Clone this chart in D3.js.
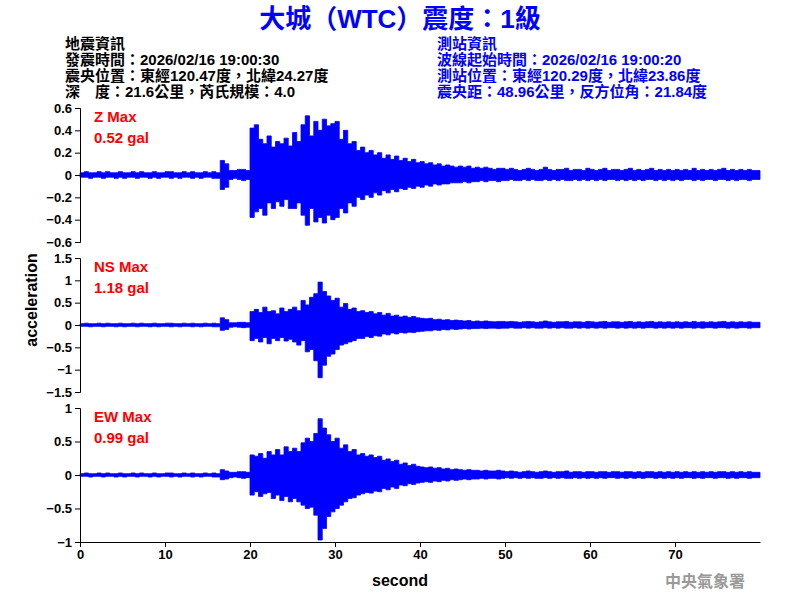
<!DOCTYPE html>
<html>
<head>
<meta charset="utf-8">
<script src="https://cdn.jsdelivr.net/npm/d3@7"></script>
<style>
  body { margin: 0; background: #fff; }
  text { font-family: Arial, "Liberation Sans", "Noto Sans CJK TC", sans-serif; }
</style>
</head>
<body>
<svg id="chart" width="800" height="600"></svg>
<script>
// Envelope of each trace, one max and one min value per 0.5 s bin (0 .. 79.5 s), in gal
const binSize = 0.5;

const zMax = [0.02,0.03,0.02,0.02,0.03,0.02,0.03,0.02,0.02,0.03,0.02,0.02,0.03,0.02,0.03,0.02,0.02,0.03,0.02,0.02,0.03,0.03,0.02,0.02,0.03,0.02,0.03,0.02,0.02,0.03,0.02,0.03,0.02,
  0.13,0.10,0.04,0.04,0.05,0.05,0.04,
  0.42,0.45,0.32,0.28,0.35,0.25,0.30,0.28,0.33,0.26,
  0.38,0.30,0.45,0.53,0.35,0.48,0.40,0.50,0.44,0.46,
  0.48,0.32,0.40,0.28,0.30,0.22,0.25,0.20,0.22,0.18,
  0.20,0.15,0.18,0.14,0.17,0.13,0.15,0.12,0.14,0.11,
  0.12,0.10,0.11,0.09,0.10,0.08,0.09,0.08,0.07,0.08,0.07,0.08,0.06,0.07,0.06,0.07,0.06,0.05,0.06,0.06,
  0.05,0.06,0.05,0.04,0.05,0.06,0.05,0.04,0.05,0.07,0.05,0.04,0.05,0.05,0.06,0.04,0.05,0.05,0.04,0.06,
  0.05,0.04,0.05,0.06,0.04,0.05,0.05,0.04,0.05,0.06,0.04,0.05,0.04,0.05,0.06,0.04,0.05,0.04,0.05,0.04,
  0.05,0.04,0.05,0.04,0.06,0.04,0.05,0.04,0.05,0.04,0.05,0.06,0.04,0.05,0.04,0.05,0.04,0.05,0.04,0.04];
const zMin = [-0.02,-0.02,-0.03,-0.02,-0.02,-0.03,-0.02,-0.02,-0.03,-0.02,-0.03,-0.02,-0.02,-0.03,-0.02,-0.02,-0.03,-0.02,-0.03,-0.02,-0.02,-0.03,-0.02,-0.03,-0.02,-0.02,-0.03,-0.02,-0.03,-0.02,-0.02,-0.03,-0.03,
  -0.13,-0.11,-0.04,-0.03,-0.04,-0.05,-0.04,
  -0.38,-0.33,-0.30,-0.36,-0.25,-0.30,-0.24,-0.28,-0.22,-0.30,
  -0.30,-0.25,-0.36,-0.45,-0.30,-0.42,-0.38,-0.43,-0.36,-0.40,
  -0.38,-0.30,-0.34,-0.25,-0.28,-0.20,-0.22,-0.18,-0.20,-0.16,
  -0.18,-0.14,-0.16,-0.13,-0.15,-0.12,-0.13,-0.11,-0.12,-0.10,
  -0.11,-0.09,-0.10,-0.08,-0.09,-0.08,-0.08,-0.07,-0.07,-0.07,-0.06,-0.07,-0.06,-0.06,-0.05,-0.06,-0.05,-0.05,-0.06,-0.05,
  -0.05,-0.04,-0.05,-0.05,-0.04,-0.05,-0.04,-0.05,-0.05,-0.04,-0.05,-0.04,-0.05,-0.04,-0.05,-0.05,-0.04,-0.05,-0.04,-0.05,
  -0.04,-0.05,-0.04,-0.05,-0.04,-0.04,-0.05,-0.04,-0.05,-0.04,-0.05,-0.04,-0.05,-0.04,-0.04,-0.05,-0.04,-0.05,-0.04,-0.05,
  -0.04,-0.05,-0.04,-0.04,-0.05,-0.04,-0.05,-0.04,-0.04,-0.05,-0.04,-0.04,-0.05,-0.04,-0.05,-0.04,-0.04,-0.05,-0.04,-0.04];

const nsMax = [0.03,0.04,0.03,0.03,0.04,0.03,0.04,0.03,0.03,0.04,0.03,0.03,0.04,0.03,0.04,0.03,0.03,0.04,0.03,0.03,0.04,0.04,0.03,0.03,0.04,0.03,0.04,0.03,0.03,0.04,0.03,0.04,0.03,
  0.16,0.12,0.05,0.05,0.06,0.06,0.05,
  0.30,0.35,0.28,0.40,0.30,0.32,0.25,0.38,0.30,0.35,
  0.40,0.32,0.55,0.45,0.62,0.70,0.96,0.75,0.65,0.55,
  0.60,0.40,0.48,0.35,0.38,0.30,0.32,0.28,0.30,0.25,
  0.28,0.22,0.26,0.20,0.22,0.18,0.20,0.17,0.19,0.16,
  0.15,0.14,0.15,0.12,0.13,0.11,0.12,0.10,0.11,0.10,0.09,0.10,0.08,0.09,0.08,0.09,0.08,0.07,0.08,0.08,
  0.07,0.08,0.07,0.06,0.07,0.08,0.07,0.06,0.07,0.09,0.07,0.06,0.07,0.07,0.08,0.06,0.07,0.07,0.06,0.08,
  0.07,0.06,0.07,0.08,0.06,0.07,0.07,0.06,0.07,0.08,0.06,0.07,0.06,0.07,0.08,0.06,0.07,0.06,0.07,0.06,
  0.07,0.06,0.07,0.06,0.08,0.06,0.07,0.06,0.07,0.06,0.07,0.08,0.06,0.07,0.06,0.07,0.06,0.07,0.06,0.06];
const nsMin = [-0.03,-0.03,-0.04,-0.03,-0.03,-0.04,-0.03,-0.03,-0.04,-0.03,-0.04,-0.03,-0.03,-0.04,-0.03,-0.03,-0.04,-0.03,-0.04,-0.03,-0.03,-0.04,-0.03,-0.04,-0.03,-0.03,-0.04,-0.03,-0.04,-0.03,-0.03,-0.04,-0.04,
  -0.12,-0.10,-0.05,-0.04,-0.05,-0.06,-0.05,
  -0.35,-0.30,-0.38,-0.28,-0.42,-0.30,-0.35,-0.28,-0.36,-0.32,
  -0.38,-0.45,-0.35,-0.60,-0.55,-0.80,-1.18,-0.90,-0.70,-0.65,
  -0.55,-0.45,-0.42,-0.38,-0.35,-0.30,-0.30,-0.26,-0.28,-0.24,
  -0.25,-0.20,-0.22,-0.18,-0.20,-0.17,-0.18,-0.16,-0.17,-0.15,
  -0.14,-0.13,-0.13,-0.11,-0.12,-0.10,-0.11,-0.09,-0.10,-0.09,-0.08,-0.09,-0.08,-0.08,-0.07,-0.08,-0.07,-0.07,-0.08,-0.07,
  -0.07,-0.06,-0.07,-0.07,-0.06,-0.07,-0.06,-0.07,-0.07,-0.06,-0.07,-0.06,-0.07,-0.06,-0.07,-0.07,-0.06,-0.07,-0.06,-0.07,
  -0.06,-0.07,-0.06,-0.07,-0.06,-0.06,-0.07,-0.06,-0.07,-0.06,-0.07,-0.06,-0.07,-0.06,-0.06,-0.07,-0.06,-0.07,-0.06,-0.07,
  -0.06,-0.07,-0.06,-0.06,-0.07,-0.06,-0.07,-0.06,-0.06,-0.07,-0.06,-0.06,-0.07,-0.06,-0.07,-0.06,-0.06,-0.07,-0.06,-0.06];

const ewMax = [0.02,0.03,0.02,0.02,0.03,0.02,0.03,0.02,0.02,0.03,0.02,0.02,0.03,0.02,0.03,0.02,0.02,0.03,0.02,0.02,0.03,0.03,0.02,0.02,0.03,0.02,0.03,0.02,0.02,0.03,0.02,0.03,0.02,
  0.08,0.06,0.04,0.04,0.05,0.05,0.04,
  0.30,0.28,0.32,0.25,0.35,0.30,0.38,0.30,0.42,0.35,
  0.40,0.35,0.48,0.55,0.50,0.62,0.84,0.70,0.60,0.50,
  0.55,0.40,0.45,0.35,0.38,0.30,0.32,0.28,0.30,0.26,
  0.28,0.22,0.24,0.20,0.22,0.16,0.18,0.14,0.16,0.13,
  0.12,0.11,0.12,0.10,0.11,0.09,0.10,0.08,0.09,0.08,0.07,0.08,0.07,0.07,0.06,0.07,0.06,0.06,0.07,0.06,
  0.05,0.06,0.05,0.04,0.05,0.06,0.05,0.04,0.05,0.06,0.05,0.04,0.05,0.05,0.06,0.04,0.05,0.05,0.04,0.05,
  0.05,0.04,0.05,0.05,0.04,0.05,0.05,0.04,0.05,0.05,0.04,0.05,0.04,0.05,0.05,0.04,0.05,0.04,0.05,0.04,
  0.05,0.04,0.05,0.04,0.05,0.04,0.05,0.04,0.05,0.04,0.05,0.05,0.04,0.05,0.04,0.05,0.04,0.05,0.04,0.04];
const ewMin = [-0.02,-0.02,-0.03,-0.02,-0.02,-0.03,-0.02,-0.02,-0.03,-0.02,-0.03,-0.02,-0.02,-0.03,-0.02,-0.02,-0.03,-0.02,-0.03,-0.02,-0.02,-0.03,-0.02,-0.03,-0.02,-0.02,-0.03,-0.02,-0.03,-0.02,-0.02,-0.03,-0.03,
  -0.07,-0.06,-0.04,-0.03,-0.04,-0.05,-0.04,
  -0.30,-0.25,-0.32,-0.28,-0.26,-0.35,-0.30,-0.38,-0.32,-0.40,
  -0.35,-0.40,-0.45,-0.50,-0.48,-0.60,-0.97,-0.80,-0.62,-0.55,
  -0.50,-0.45,-0.40,-0.35,-0.34,-0.30,-0.28,-0.26,-0.27,-0.24,
  -0.25,-0.20,-0.22,-0.18,-0.20,-0.15,-0.16,-0.13,-0.14,-0.12,
  -0.11,-0.10,-0.11,-0.09,-0.10,-0.08,-0.09,-0.07,-0.08,-0.07,-0.06,-0.07,-0.06,-0.06,-0.05,-0.06,-0.05,-0.05,-0.06,-0.05,
  -0.04,-0.05,-0.04,-0.05,-0.04,-0.05,-0.04,-0.05,-0.05,-0.04,-0.05,-0.04,-0.05,-0.04,-0.05,-0.05,-0.04,-0.05,-0.04,-0.05,
  -0.04,-0.05,-0.04,-0.05,-0.04,-0.04,-0.05,-0.04,-0.05,-0.04,-0.05,-0.04,-0.05,-0.04,-0.04,-0.05,-0.04,-0.05,-0.04,-0.05,
  -0.04,-0.05,-0.04,-0.04,-0.05,-0.04,-0.05,-0.04,-0.04,-0.05,-0.04,-0.04,-0.05,-0.04,-0.05,-0.04,-0.04,-0.05,-0.04,-0.04];

// Panel setup: name, peak label, y range and ticks
const panelNames = ["Z", "NS", "EW"];
const panelPeaks = ["0.52 gal", "1.18 gal", "0.99 gal"];
const panelLimits = [0.6, 1.5, 1];
const panelTicks = [
  [-0.6, -0.4, -0.2, 0, 0.2, 0.4, 0.6],
  [-1.5, -1, -0.5, 0, 0.5, 1, 1.5],
  [-1, -0.5, 0, 0.5, 1]
];
const panelMax = [zMax, nsMax, ewMax];
const panelMin = [zMin, nsMin, ewMin];
const xTicks = [0, 10, 20, 30, 40, 50, 60, 70];

const titleText = "大城（WTC）震度：1級";
const quakeInfo = ["地震資訊", "發震時間：2026/02/16 19:00:30", "震央位置：東經120.47度，北緯24.27度", "深　度：21.6公里，芮氏規模：4.0"];
const stationInfo = ["測站資訊", "波線起始時間：2026/02/16 19:00:20", "測站位置：東經120.29度，北緯23.86度", "震央距：48.96公里，反方位角：21.84度"];

const svg = d3.select("#chart");
const left = 80, right = 760;
const panelTop = [108, 258, 408], panelH = 134;
const blue = "#0000ff";

const x = d3.scaleLinear().domain([0, 80]).range([left, right]);

// Title and header
svg.append("text").attr("x", 400).attr("y", 28).attr("text-anchor", "middle")
  .attr("font-size", 26).attr("font-weight", "bold").attr("fill", blue).text(titleText);

quakeInfo.forEach(function (t, i) {
  svg.append("text").attr("x", 65).attr("y", 49 + i * 16).attr("font-size", 15)
    .attr("font-weight", "bold").attr("fill", "#000").text(t);
});
stationInfo.forEach(function (t, i) {
  svg.append("text").attr("x", 437).attr("y", 49 + i * 16).attr("font-size", 15)
    .attr("font-weight", "bold").attr("fill", blue).text(t);
});

panelNames.forEach(function (name, p) {
  const lim = panelLimits[p];
  const y = d3.scaleLinear().domain([-lim, lim]).range([panelTop[p] + panelH, panelTop[p]]);

  // Filled envelope between each bin's min and max, drawn as steps
  const bins = panelMax[p].map(function (v, i) {
    return { t: i * binSize, hi: v, lo: panelMin[p][i] };
  });
  bins.push({ t: 80, hi: bins[bins.length - 1].hi, lo: bins[bins.length - 1].lo });
  svg.append("path")
    .attr("d", d3.area().curve(d3.curveStepAfter)
      .x(d => x(d.t)).y0(d => y(d.lo)).y1(d => y(d.hi))(bins))
    .attr("fill", blue).attr("stroke", blue).attr("stroke-width", 0.8);

  // Left axis
  const axis = svg.append("g").attr("transform", "translate(" + left + ",0)")
    .call(d3.axisLeft(y).tickValues(panelTicks[p]).tickSize(5).tickFormat(d3.format("")));
  axis.selectAll("text").attr("font-size", 13).attr("font-weight", "bold");
  axis.select(".domain").attr("stroke", "#000");

  svg.append("text").attr("x", 94).attr("y", panelTop[p] + 14).attr("font-size", 15)
    .attr("font-weight", "bold").attr("fill", "#ff0000").text(name + " Max");
  svg.append("text").attr("x", 94).attr("y", panelTop[p] + 35).attr("font-size", 15)
    .attr("font-weight", "bold").attr("fill", "#ff0000").text(panelPeaks[p]);
});

// Bottom axis
const xAxis = svg.append("g").attr("transform", "translate(0," + (panelTop[2] + panelH) + ")")
  .call(d3.axisBottom(x).tickValues(xTicks).tickSize(5).tickSizeOuter(0));
xAxis.selectAll("text").attr("font-size", 13).attr("font-weight", "bold");

svg.append("text").attr("x", 400).attr("y", 586).attr("text-anchor", "middle")
  .attr("font-size", 16).attr("font-weight", "bold").text("second");
svg.append("text").attr("transform", "translate(37,300) rotate(-90)").attr("text-anchor", "middle")
  .attr("font-size", 16).attr("font-weight", "bold").text("acceleration");

svg.append("text").attr("x", 745).attr("y", 587).attr("text-anchor", "end")
  .attr("font-size", 16).attr("font-weight", "bold").attr("fill", "#999")
  .attr("font-family", "Noto Sans CJK TC, sans-serif").text("中央氣象署");
</script>
</body>
</html>
